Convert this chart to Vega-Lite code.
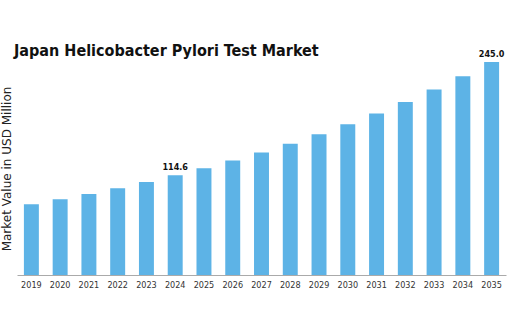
{
  "$schema": "https://vega.github.io/schema/vega-lite/v6.json",
  "autosize": {"type": "none"},
  "width": 489,
  "height": 213,
  "padding": {"left": 17, "top": 62, "right": 14, "bottom": 41},
  "background": "white",
  "title": {
    "text": "Japan Helicobacter Pylori Test Market",
    "anchor": "start",
    "frame": "group",
    "dx": -3,
    "offset": -9,
    "font": "DejaVu Sans Condensed",
    "fontWeight": "bold",
    "fontSize": 16,
    "color": "#111111"
  },
  "config": {"view": {"stroke": null}},
  "data": {
    "values": [
      {"year": "2019", "value": 81.5},
      {"year": "2020", "value": 87.0},
      {"year": "2021", "value": 93.2},
      {"year": "2022", "value": 99.9},
      {"year": "2023", "value": 107.0},
      {"year": "2024", "value": 114.6},
      {"year": "2025", "value": 122.8},
      {"year": "2026", "value": 131.6},
      {"year": "2027", "value": 141.0},
      {"year": "2028", "value": 151.1},
      {"year": "2029", "value": 161.9},
      {"year": "2030", "value": 173.4},
      {"year": "2031", "value": 185.8},
      {"year": "2032", "value": 199.1},
      {"year": "2033", "value": 213.3},
      {"year": "2034", "value": 228.7},
      {"year": "2035", "value": 245.0}
    ]
  },
  "encoding": {
    "x": {
      "field": "year",
      "type": "ordinal",
      "scale": {"paddingInner": 0.48, "paddingOuter": 0.24},
      "axis": {
        "title": null,
        "labelAngle": 0,
        "labelFont": "DejaVu Sans Condensed",
        "labelFontSize": 9,
        "labelColor": "#333333",
        "labelPadding": 5,
        "ticks": false,
        "domainColor": "#aaaaaa",
        "domainWidth": 1
      }
    },
    "y": {
      "field": "value",
      "type": "quantitative",
      "scale": {"domain": [0, 245], "nice": false},
      "axis": {
        "title": "Market Value in USD Million",
        "titleFont": "DejaVu Sans",
        "titleFontWeight": "normal",
        "titleFontSize": 12,
        "titleColor": "#222222",
        "titlePadding": 4,
        "labels": false,
        "ticks": false,
        "domain": false,
        "grid": false
      }
    }
  },
  "layer": [
    {"mark": {"type": "bar", "color": "#5db3e6"}},
    {
      "transform": [{"filter": {"field": "year", "oneOf": ["2024", "2035"]}}],
      "mark": {
        "type": "text",
        "dy": -8,
        "font": "DejaVu Sans Condensed",
        "fontWeight": "bold",
        "fontSize": 9,
        "color": "#111111"
      },
      "encoding": {"text": {"field": "value", "type": "quantitative", "format": ".1f"}}
    }
  ]
}
